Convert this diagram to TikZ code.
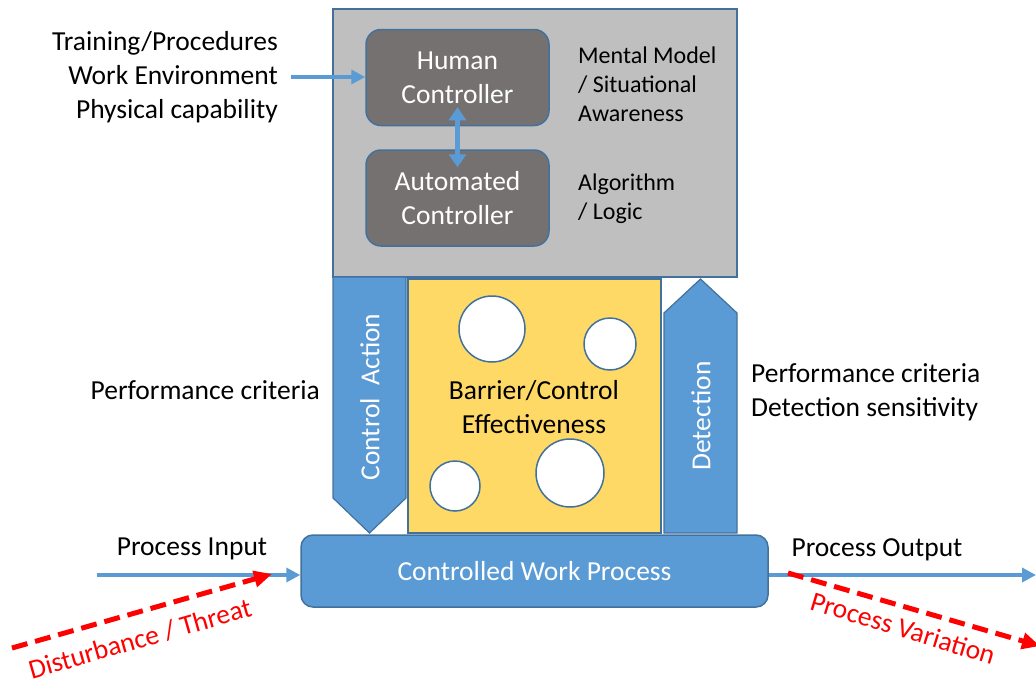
\documentclass[tikz,border=0pt]{standalone}
\usepackage{fontspec}
\setmainfont{Carlito}
\usetikzlibrary{arrows.meta}
\definecolor{bfill}{HTML}{5B9BD5}
\definecolor{bline}{HTML}{41719C}
\definecolor{gfill}{HTML}{BFBFBF}
\definecolor{dgfill}{HTML}{767171}
\definecolor{yfill}{HTML}{FFD966}
\definecolor{rline}{HTML}{FF0000}
\tikzset{
  txt/.style={font=\fontsize{27.5}{34}\selectfont, inner sep=0pt},
  stxt/.style={inner sep=0pt, font=\fontsize{24}{29}\selectfont},
  wtxt/.style={txt, text=white},
  ctrlbox/.style={draw=bline, line width=1.5pt, fill=dgfill, rounded corners=15pt, minimum width=183pt, minimum height=96pt, inner sep=0pt, font=\fontsize{27.5}{34}\selectfont, text=white, align=center},
  barrow/.style={draw=bfill, line width=3.5pt, -{Triangle[length=14pt,width=14pt]}},
  bdarrow/.style={draw=bfill, line width=5pt, {Triangle[length=13pt,width=17pt]}-{Triangle[length=13pt,width=17pt]}},
  rarrow/.style={draw=rline, line width=5pt, dash pattern=on 16pt off 8pt, -{Triangle[length=18pt,width=16pt]}},
  rtxt/.style={txt, text=rline},
  hole/.style={circle, draw=bline, line width=1.5pt, fill=white, inner sep=0pt},
  bigarrow/.style={draw=bline, line width=1.2pt, fill=bfill},
}
\begin{document}
\begin{tikzpicture}[x=1pt,y=-1pt]
\useasboundingbox (0,0) rectangle (1036,680);
% gray controller box
\node[draw=bline, line width=1.5pt, fill=gfill, minimum width=404pt, minimum height=268pt, inner sep=0pt] (ctl) at (535,143) {};
\node[ctrlbox] (hc) at (457.5,77.5) {Human\\Controller};
\node[ctrlbox] (ac) at (457.5,198) {Automated\\Controller};
\draw[bdarrow] ([yshift=19pt]hc.south) -- ([yshift=-18pt]ac.north);
\node[stxt, align=left, anchor=west] (mm) at (578,84) {Mental Model\\/ Situational\\Awareness};
\node[stxt, align=left, anchor=west] (al) at (578,198.5) {Algorithm\\/ Logic};
% inputs to human
\node[txt, align=right, anchor=east] (inp) at (278,77.5) {Training/Procedures\\Work Environment\\Physical capability};
\coordinate (inpstart) at (291,77);
\draw[barrow] (inpstart) -- (hc.west |- inpstart);
% control action arrow
\draw[bigarrow] (333,277) -- (406,277) -- (406,498) -- (369.5,533) -- (333,498) -- cycle;
\node[wtxt, rotate=90] (ca) at (370,397) {Control\ \ Action};
% yellow barrier box
\node[draw=bline, line width=1.2pt, fill=yfill, minimum width=253pt, minimum height=254pt, inner sep=0pt] (bar) at (534.5,406) {};
\node[hole, minimum size=66pt] (h1) at (492,329) {};
\node[hole, minimum size=52pt] (h2) at (610,344) {};
\node[hole, minimum size=50pt] (h3) at (455,486) {};
\node[hole, minimum size=68pt] (h4) at (570,473) {};
\node[txt, align=center] (bce) at (534,407) {Barrier/Control\\Effectiveness};
% detection arrow
\draw[bigarrow] (664,533) -- (664,313) -- (700.5,279) -- (737,313) -- (737,533) -- cycle;
\node[wtxt, rotate=90] (det) at (701,416) {Detection};
% performance criteria
\node[txt, anchor=east] (pc1) at (320,390) {Performance criteria};
\node[txt, align=left, anchor=west] (pc2) at (751,392) {Performance criteria\\Detection sensitivity};
% controlled work process
\node[draw=bline, line width=1.5pt, fill=bfill, rounded corners=12pt, minimum width=467pt, minimum height=72pt, inner sep=0pt, font=\fontsize{27.5}{34}\selectfont, text=white] (cwp) at (534.5,571) {Controlled Work Process};
% process input / output
\node[txt] (pi) at (192,549) {Process Input};
\coordinate (pistart) at (97,575);
\draw[barrow] (pistart) -- (cwp.west |- pistart);
\node[txt] (po) at (877,550) {Process Output};
\coordinate (poend) at (1036,575);
\draw[barrow] (cwp.east |- poend) -- (poend);
% disturbance
\coordinate (dstart) at (12,648);
\coordinate (dend) at (272,574);
\draw[rarrow] (dstart) -- (dend);
\node[rtxt, rotate=16] (dt) at (140,639) {Disturbance / Threat};
\coordinate (vstart) at (788,573);
\coordinate (vend) at (1040,646);
\draw[rarrow] (vstart) -- (vend);
\node[rtxt, rotate=-17] (pv) at (903,628) {Process Variation};
\end{tikzpicture}
\end{document}
